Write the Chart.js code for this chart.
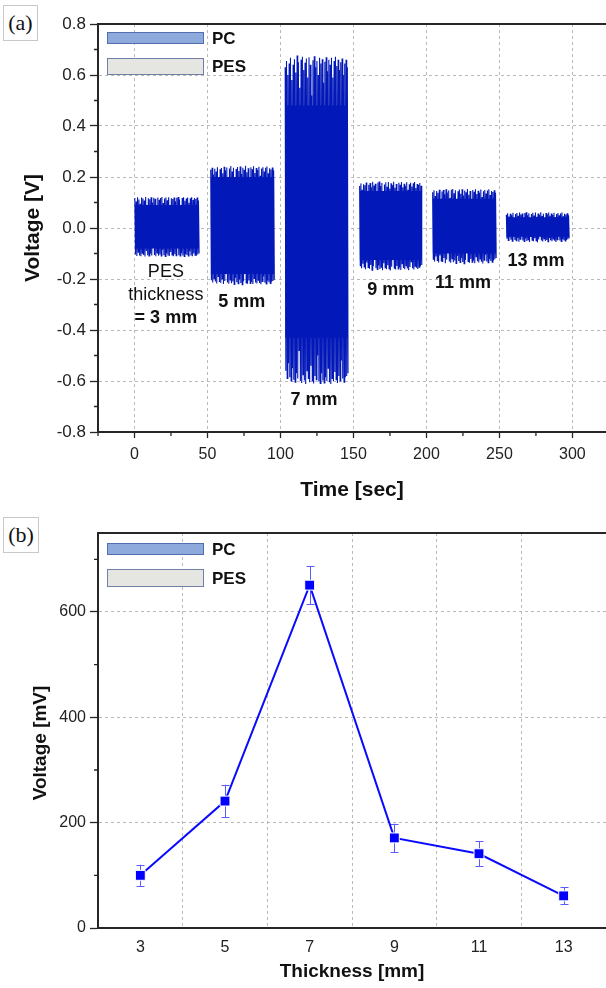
<!DOCTYPE html>
<html><head><meta charset="utf-8">
<script src="https://cdn.jsdelivr.net/npm/chart.js@4/dist/chart.umd.min.js"></script>
<style>
html,body{margin:0;padding:0;background:#fff;}
body{width:606px;height:988px;position:relative;overflow:hidden;}
.wrap{position:absolute;left:0;}
.plabel{position:absolute;left:3px;box-sizing:border-box;border:1px solid #c8c8c8;font-family:"Liberation Serif","Times New Roman",serif;font-size:22px;text-align:center;color:#111;background:#fff;}
</style></head><body>
<div class="wrap" style="top:0;width:606px;height:500px;"><canvas id="ca" width="606" height="500"></canvas></div>
<div class="wrap" style="top:500px;width:606px;height:488px;"><canvas id="cb" width="606" height="488"></canvas></div>
<div class="plabel" style="top:5px;width:35px;height:36px;line-height:33px;">(a)</div>
<div class="plabel" style="top:517px;width:36px;height:36px;line-height:33px;">(b)</div>
<script>
// ---------- Panel (a) data: PES thickness segments (time windows, peak voltages) ----------
const segLabels = ["3 mm","5 mm","7 mm","9 mm","11 mm","13 mm"];
const segStart = [0, 52, 103, 154, 204, 254.5];   // sec
const segEnd   = [44.5, 96, 146.5, 197, 248, 298]; // sec
// level down to which each burst looks solid (dense core)
const coreHi = [0.09, 0.2, 0.48, 0.145, 0.115, 0.042];
const coreLo = [-0.08, -0.18, -0.43, -0.125, -0.1, -0.034];
const hi3 = [0.118,0.104,0.121,0.112,0.095,0.12,0.116,0.108,0.122,0.085,0.117,0.113,0.121,0.1,0.119,0.115,0.07,0.12,0.111,0.118,0.122,0.098,0.116,0.12,0.109,0.121,0.088,0.117,0.114,0.12,0.105,0.119,0.122,0.112,0.08,0.118,0.121,0.107,0.116,0.12,0.099,0.117,0.121,0.11,0.118,0.114,0.12,0.108];
const lo3 = [-0.104,-0.11,-0.095,-0.108,-0.111,-0.099,-0.106,-0.112,-0.09,-0.107,-0.11,-0.101,-0.108,-0.072,-0.106,-0.111,-0.098,-0.109,-0.104,-0.11,-0.085,-0.107,-0.112,-0.1,-0.108,-0.11,-0.094,-0.106,-0.111,-0.103,-0.109,-0.078,-0.107,-0.11,-0.099,-0.108,-0.112,-0.102,-0.106,-0.11,-0.091,-0.108,-0.111,-0.1,-0.107,-0.109,-0.104,-0.1];
const hi5 = [0.228,0.236,0.21,0.232,0.222,0.238,0.18,0.23,0.235,0.215,0.24,0.226,0.237,0.2,0.233,0.243,0.222,0.236,0.17,0.231,0.239,0.224,0.241,0.212,0.236,0.228,0.244,0.219,0.234,0.19,0.238,0.23,0.242,0.216,0.235,0.227,0.24,0.205,0.233,0.238,0.222,0.236,0.241,0.215,0.234,0.229,0.237,0.226];
const lo5 = [-0.205,-0.214,-0.198,-0.21,-0.218,-0.19,-0.212,-0.216,-0.2,-0.22,-0.208,-0.165,-0.214,-0.219,-0.204,-0.217,-0.21,-0.221,-0.195,-0.213,-0.218,-0.202,-0.216,-0.222,-0.209,-0.18,-0.215,-0.219,-0.206,-0.217,-0.212,-0.22,-0.198,-0.214,-0.218,-0.205,-0.216,-0.221,-0.21,-0.19,-0.215,-0.219,-0.207,-0.213,-0.217,-0.211,-0.208,-0.203];
const hi7 = [0.63,0.655,0.6,0.645,0.668,0.58,0.64,0.662,0.61,0.676,0.65,0.55,0.66,0.672,0.62,0.648,0.665,0.59,0.67,0.64,0.52,0.658,0.674,0.63,0.655,0.6,0.668,0.645,0.662,0.57,0.652,0.67,0.615,0.66,0.64,0.668,0.59,0.655,0.672,0.635,0.66,0.62,0.65,0.665,0.6,0.645,0.66,0.63];
const lo7 = [-0.56,-0.59,-0.53,-0.585,-0.6,-0.55,-0.595,-0.605,-0.57,-0.59,-0.48,-0.6,-0.608,-0.575,-0.598,-0.612,-0.56,-0.59,-0.605,-0.54,-0.6,-0.61,-0.58,-0.595,-0.5,-0.602,-0.61,-0.57,-0.598,-0.608,-0.585,-0.6,-0.55,-0.605,-0.612,-0.59,-0.6,-0.565,-0.595,-0.608,-0.58,-0.6,-0.52,-0.59,-0.605,-0.585,-0.58,-0.57];
const hi9 = [0.165,0.175,0.15,0.172,0.168,0.178,0.13,0.17,0.176,0.16,0.181,0.167,0.174,0.145,0.178,0.182,0.165,0.176,0.12,0.171,0.179,0.162,0.18,0.155,0.175,0.168,0.181,0.158,0.173,0.14,0.177,0.17,0.18,0.16,0.174,0.166,0.179,0.15,0.172,0.177,0.163,0.175,0.18,0.157,0.173,0.169,0.176,0.166];
const lo9 = [-0.148,-0.158,-0.14,-0.153,-0.162,-0.135,-0.155,-0.16,-0.145,-0.165,-0.15,-0.115,-0.158,-0.163,-0.147,-0.161,-0.154,-0.166,-0.138,-0.156,-0.162,-0.146,-0.16,-0.167,-0.152,-0.125,-0.158,-0.163,-0.149,-0.161,-0.155,-0.165,-0.14,-0.157,-0.162,-0.148,-0.159,-0.166,-0.153,-0.132,-0.158,-0.163,-0.15,-0.156,-0.161,-0.154,-0.15,-0.145];
const hi11 = [0.14,0.148,0.125,0.145,0.138,0.15,0.1,0.143,0.149,0.132,0.152,0.139,0.147,0.118,0.15,0.153,0.136,0.148,0.095,0.144,0.151,0.134,0.152,0.127,0.147,0.14,0.153,0.13,0.145,0.112,0.149,0.142,0.152,0.133,0.146,0.138,0.151,0.122,0.144,0.149,0.135,0.147,0.152,0.129,0.145,0.141,0.148,0.138];
const lo11 = [-0.122,-0.131,-0.112,-0.127,-0.135,-0.108,-0.129,-0.133,-0.118,-0.138,-0.124,-0.09,-0.131,-0.136,-0.12,-0.134,-0.127,-0.139,-0.11,-0.129,-0.135,-0.119,-0.133,-0.14,-0.125,-0.098,-0.131,-0.136,-0.122,-0.134,-0.128,-0.138,-0.113,-0.13,-0.135,-0.121,-0.132,-0.139,-0.126,-0.105,-0.131,-0.136,-0.123,-0.129,-0.134,-0.127,-0.123,-0.118];
const hi13 = [0.052,0.058,0.045,0.056,0.05,0.06,0.035,0.055,0.059,0.048,0.061,0.053,0.057,0.04,0.059,0.062,0.05,0.058,0.03,0.055,0.06,0.049,0.061,0.044,0.057,0.052,0.062,0.047,0.056,0.038,0.059,0.054,0.061,0.048,0.057,0.051,0.06,0.042,0.055,0.059,0.05,0.057,0.061,0.046,0.056,0.053,0.058,0.05];
const lo13 = [-0.042,-0.049,-0.036,-0.046,-0.052,-0.033,-0.047,-0.05,-0.039,-0.054,-0.044,-0.025,-0.049,-0.053,-0.041,-0.051,-0.046,-0.055,-0.035,-0.048,-0.052,-0.04,-0.05,-0.056,-0.045,-0.03,-0.049,-0.053,-0.042,-0.051,-0.047,-0.054,-0.037,-0.048,-0.052,-0.043,-0.05,-0.055,-0.046,-0.032,-0.049,-0.053,-0.044,-0.048,-0.051,-0.047,-0.044,-0.04];
const segHi = [hi3, hi5, hi7, hi9, hi11, hi13];
const segLo = [lo3, lo5, lo7, lo9, lo11, lo13];

// tick values for panel (a)
const xTicksA  = [-25,0,25,50,75,100,125,150,175,200,225,250,275,300];
const xLabelsA = [0,50,100,150,200,250,300];
const yTicksA  = [-0.8,-0.7,-0.6,-0.5,-0.4,-0.3,-0.2,-0.1,0,0.1,0.2,0.3,0.4,0.5,0.6,0.7,0.8];
const yLabelsA = [-0.8,-0.6,-0.4,-0.2,0,0.2,0.4,0.6,0.8];

// ---------- Panel (b) data ----------
const thickness = [3,5,7,9,11,13];            // mm
const voltageMV = [100,241,651,171,141,61];   // mV
const errMV     = [20,31,36,27,24,16];        // mV
const xTicksB  = [3,4,5,6,7,8,9,10,11,12,13];
const xLabelsB = [3,5,7,9,11,13];
const yTicksB  = [0,100,200,300,400,500,600,700];
const yLabelsB = [0,200,400,600];

// ---------- helpers ----------
const FONT = '"Liberation Sans", Arial, Helvetica, sans-serif';
const GRID = '#b9b9b9';
const AXIS = '#262626';
const SIG = 'rgb(3,24,184)';
const near = (a, list) => list.some(v => Math.abs(v - a) < 1e-6);

// per segment: dense core band (filled between two flat lines) + oscillation trace
function buildSignalDatasets() {
  const sets = [];
  for (let s = 0; s < segStart.length; s++) {
    const hi = segHi[s], lo = segLo[s];
    const n = Math.min(hi.length, lo.length);
    const dt = (segEnd[s] - segStart[s]) / n;
    const zz = [];
    for (let i = 0; i < n; i++) {
      zz.push({x: segStart[s] + i * dt + dt * 0.25, y: hi[i]});
      zz.push({x: segStart[s] + i * dt + dt * 0.75, y: lo[i]});
    }
    const t0 = zz[0].x, t1 = zz[zz.length - 1].x;
    sets.push({data: [{x: t0, y: coreHi[s]}, {x: t1, y: coreHi[s]}], borderColor: SIG, borderWidth: 0, pointRadius: 0, fill: false});
    sets.push({data: [{x: t0, y: coreLo[s]}, {x: t1, y: coreLo[s]}], borderColor: SIG, backgroundColor: SIG, borderWidth: 0, pointRadius: 0, fill: '-1'});
    sets.push({data: zz, borderColor: SIG, borderWidth: 1.1, pointRadius: 0, tension: 0, fill: false});
  }
  return sets;
}

function topBorder(chart) {
  const {ctx, chartArea: a} = chart;
  ctx.save();
  ctx.strokeStyle = AXIS; ctx.lineWidth = 2;
  ctx.beginPath(); ctx.moveTo(a.left - 1, a.top); ctx.lineTo(a.right, a.top); ctx.stroke();
  ctx.restore();
}
function minorTicks(chart, axis, values, len) {
  const {ctx, chartArea: a} = chart;
  const sc = chart.scales[axis];
  ctx.save(); ctx.strokeStyle = AXIS; ctx.lineWidth = 1.3;
  ctx.beginPath();
  values.forEach(v => {
    const p = sc.getPixelForValue(v);
    if (axis === 'x') { ctx.moveTo(p, a.bottom); ctx.lineTo(p, a.bottom + len); }
    else { ctx.moveTo(a.left, p); ctx.lineTo(a.left - len, p); }
  });
  ctx.stroke(); ctx.restore();
}
function legendBoxes(chart, y1, h1, y2, h2) {
  const ctx = chart.ctx;
  ctx.save();
  ctx.fillStyle = '#8eaadc'; ctx.strokeStyle = '#4f6fae'; ctx.lineWidth = 1;
  ctx.fillRect(107, y1, 97, h1); ctx.strokeRect(107.5, y1 + 0.5, 96, h1 - 1);
  ctx.fillStyle = '#e5e5e1'; ctx.strokeStyle = '#6f7fa8';
  ctx.fillRect(107, y2, 97, h2); ctx.strokeRect(107.5, y2 + 0.5, 96, h2 - 1);
  ctx.fillStyle = '#111'; ctx.font = 'bold 17px ' + FONT;
  ctx.textBaseline = 'middle'; ctx.textAlign = 'left';
  ctx.fillText('PC', 212, y1 + h1 / 2 + 1);
  ctx.fillText('PES', 212, y2 + h2 / 2 + 1);
  ctx.restore();
}
function yTitle(chart, text, x, y, size) {
  const ctx = chart.ctx;
  ctx.save(); ctx.translate(x, y); ctx.rotate(-Math.PI / 2);
  ctx.font = 'bold ' + size + 'px ' + FONT; ctx.fillStyle = '#111';
  ctx.textAlign = 'center'; ctx.textBaseline = 'middle';
  ctx.fillText(text, 0, 0); ctx.restore();
}
function xTitle(chart, text, x, y, size) {
  const ctx = chart.ctx;
  ctx.save(); ctx.font = 'bold ' + size + 'px ' + FONT; ctx.fillStyle = '#111';
  ctx.textAlign = 'center'; ctx.textBaseline = 'middle';
  ctx.fillText(text, x, y); ctx.restore();
}

// annotation labels for panel (a): [time, voltage, text, bold]
const annotA = [
  [21.5, -0.173, 'PES', false],
  [21.5, -0.263, 'thickness', false],
  [21.5, -0.353, '= ' + segLabels[0], true],
  [73.5, -0.29, segLabels[1], true],
  [123, -0.675, segLabels[2], true],
  [175.5, -0.243, segLabels[3], true],
  [225, -0.216, segLabels[4], true],
  [275, -0.129, segLabels[5], true]
];

const decoA = {
  id: 'decoA',
  afterDraw(chart) {
    const ctx = chart.ctx;
    topBorder(chart);
    minorTicks(chart, 'x', xTicksA.filter(v => !near(v, xLabelsA)), 4);
    minorTicks(chart, 'y', yTicksA.filter(v => !near(v, yLabelsA)), 4);
    legendBoxes(chart, 32, 12, 58, 17);
    ctx.save(); ctx.fillStyle = '#111'; ctx.textAlign = 'center'; ctx.textBaseline = 'middle';
    annotA.forEach(([t, v, txt, b]) => {
      ctx.font = (b ? 'bold ' : '') + '18px ' + FONT;
      ctx.fillText(txt, chart.scales.x.getPixelForValue(t), chart.scales.y.getPixelForValue(v));
    });
    ctx.restore();
    yTitle(chart, 'Voltage [V]', 33, 228, 21);
    xTitle(chart, 'Time [sec]', 352, 490, 21);
  }
};

new Chart(document.getElementById('ca'), {
  type: 'line',
  data: { datasets: buildSignalDatasets() },
  options: {
    responsive: false, animation: false, devicePixelRatio: 1,
    layout: { autoPadding: false, padding: { top: 24, right: 0, bottom: 0, left: 0 } },
    plugins: { legend: { display: false }, tooltip: { enabled: false } },
    scales: {
      x: {
        type: 'linear', min: -25, max: 323,
        afterBuildTicks(s) { s.ticks = xTicksA.map(v => ({value: v})); },
        afterFit(s) { s.height = 68; s.paddingLeft = 0; s.paddingRight = 0; },
        ticks: { autoSkip: false, maxRotation: 0, color: '#222', font: { size: 16, family: FONT }, padding: 7,
                 callback: v => near(v, xLabelsA) ? String(v) : '' },
        grid: { color: c => (c.tick && near(c.tick.value, xLabelsA)) ? GRID : 'rgba(0,0,0,0)',
                tickColor: c => (c.tick && near(c.tick.value, xLabelsA)) ? AXIS : 'rgba(0,0,0,0)',
                tickLength: 6, lineWidth: 1, tickWidth: 1.3 },
        border: { color: AXIS, width: 2, dash: [3, 3] }
      },
      y: {
        type: 'linear', min: -0.8, max: 0.8,
        afterBuildTicks(s) { s.ticks = yTicksA.map(v => ({value: v})); },
        afterFit(s) { s.width = 98; },
        ticks: { autoSkip: false, color: '#222', font: { size: 17, family: FONT }, padding: 4,
                 callback: v => near(v, yLabelsA) ? v.toFixed(1) : '' },
        grid: { color: c => (c.tick && near(c.tick.value, yLabelsA) && Math.abs(c.tick.value) < 0.79) ? GRID : 'rgba(0,0,0,0)',
                tickColor: c => (c.tick && near(c.tick.value, yLabelsA)) ? AXIS : 'rgba(0,0,0,0)',
                tickLength: 8, lineWidth: 1, tickWidth: 1.3 },
        border: { color: AXIS, width: 2, dash: [3, 3] }
      }
    }
  },
  plugins: [decoA]
});

// ---------- Panel (b) ----------
const decoB = {
  id: 'decoB',
  beforeDatasetsDraw(chart) {
    const {ctx, scales: {x, y}} = chart;
    ctx.save(); ctx.strokeStyle = '#5a5aff'; ctx.lineWidth = 1;
    thickness.forEach((t, i) => {
      const px = Math.round(x.getPixelForValue(t)) + 0.5;
      const yt = y.getPixelForValue(voltageMV[i] + errMV[i]);
      const yb = y.getPixelForValue(voltageMV[i] - errMV[i]);
      ctx.beginPath();
      ctx.moveTo(px, yt); ctx.lineTo(px, yb);
      ctx.moveTo(px - 4, Math.round(yt) + 0.5); ctx.lineTo(px + 4, Math.round(yt) + 0.5);
      ctx.moveTo(px - 4, Math.round(yb) + 0.5); ctx.lineTo(px + 4, Math.round(yb) + 0.5);
      ctx.stroke();
    });
    ctx.restore();
  },
  afterDraw(chart) {
    topBorder(chart);
    minorTicks(chart, 'y', yTicksB.filter(v => !near(v, yLabelsB)), 4);
    legendBoxes(chart, 43, 12, 69, 18);
    yTitle(chart, 'Voltage [mV]', 41, 243, 19);
    xTitle(chart, 'Thickness [mm]', 352, 472, 19);
  }
};

new Chart(document.getElementById('cb'), {
  type: 'line',
  data: { datasets: [{
    data: thickness.map((t, i) => ({x: t, y: voltageMV[i]})),
    borderColor: '#0a0aff', borderWidth: 2, tension: 0,
    pointStyle: 'rect', pointRadius: 7, pointBackgroundColor: '#0000ff',
    pointBorderColor: '#ffffff', pointBorderWidth: 1
  }]},
  options: {
    responsive: false, animation: false, devicePixelRatio: 1,
    layout: { autoPadding: false, padding: { top: 33, right: 0, bottom: 0, left: 0 } },
    plugins: { legend: { display: false }, tooltip: { enabled: false } },
    scales: {
      x: {
        type: 'linear', min: 2, max: 14,
        afterBuildTicks(s) { s.ticks = xTicksB.map(v => ({value: v})); },
        afterFit(s) { s.height = 60; s.paddingLeft = 0; s.paddingRight = 0; },
        ticks: { autoSkip: false, maxRotation: 0, color: '#222', font: { size: 16, family: FONT }, padding: 6,
                 callback: v => near(v, xLabelsB) ? String(v) : '' },
        grid: { color: c => (c.tick && !near(c.tick.value, xLabelsB)) ? GRID : 'rgba(0,0,0,0)',
                tickColor: 'rgba(0,0,0,0)', tickLength: 4, lineWidth: 1 },
        border: { color: AXIS, width: 2, dash: [3, 3] }
      },
      y: {
        type: 'linear', min: 0, max: 750,
        afterBuildTicks(s) { s.ticks = yTicksB.map(v => ({value: v})); },
        afterFit(s) { s.width = 98; },
        ticks: { autoSkip: false, color: '#222', font: { size: 16, family: FONT }, padding: 4,
                 callback: v => near(v, yLabelsB) ? String(v) : '' },
        grid: { color: c => (c.tick && near(c.tick.value, yLabelsB) && c.tick.value > 0) ? GRID : 'rgba(0,0,0,0)',
                tickColor: c => (c.tick && near(c.tick.value, yLabelsB)) ? AXIS : 'rgba(0,0,0,0)',
                tickLength: 8, lineWidth: 1, tickWidth: 1.3 },
        border: { color: AXIS, width: 2, dash: [3, 3] }
      }
    }
  },
  plugins: [decoB]
});
</script>
</body></html>
